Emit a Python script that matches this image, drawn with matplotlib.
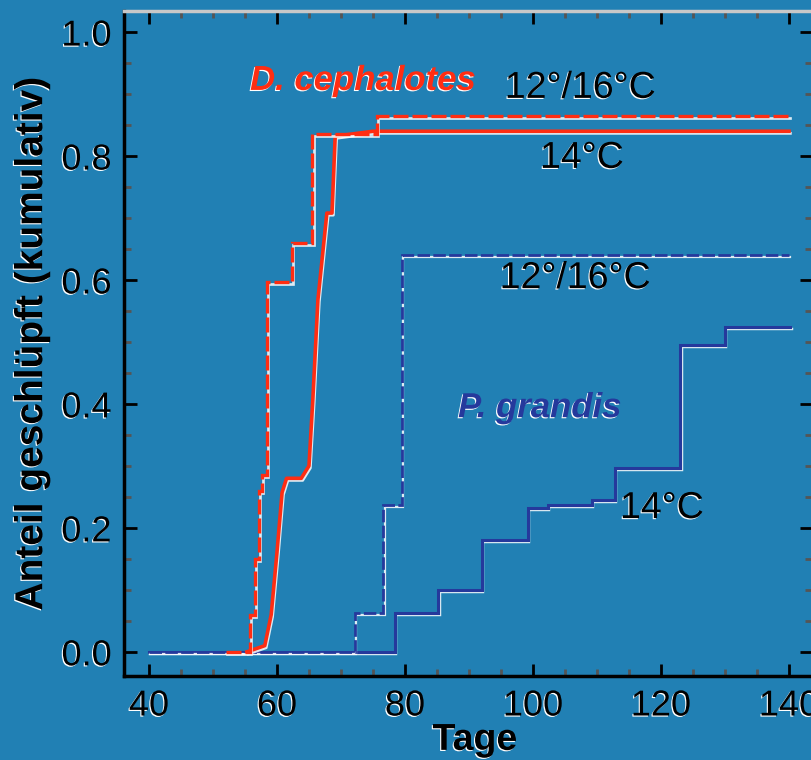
import matplotlib
matplotlib.use("Agg")
import matplotlib.pyplot as plt
import matplotlib.patheffects as pe
from matplotlib.transforms import offset_copy
from matplotlib.ticker import MultipleLocator

plt.rcParams['font.family'] = ['Liberation Sans', 'DejaVu Sans']

BG = '#2180b4'
RED = '#ff2d12'
BLUE = '#25399c'

# cumulative hatching curves (days, fraction hatched)
dc_warm_days = [52, 55.3, 55.8, 56.5, 57.2, 57.6, 58.4, 62.0, 62.3, 64.8, 65.5, 75.3, 75.6, 140]
dc_warm_frac = [0.0, 0.0, 0.06, 0.15, 0.26, 0.285, 0.597, 0.597, 0.66, 0.66, 0.835, 0.835, 0.865, 0.865]

dc_14_days = [55.3, 58.1, 59.1, 60.0, 60.8, 61.5, 63.8, 65.0, 65.6, 66.4, 67.2, 67.8, 68.6, 69.1, 75.0, 140]
dc_14_frac = [0.0, 0.01, 0.06, 0.16, 0.257, 0.28, 0.28, 0.30, 0.406, 0.568, 0.648, 0.708, 0.708, 0.832, 0.84, 0.84]

pg_warm_days = [40, 72.2, 76.4, 76.6, 78.9, 79.5, 140]
pg_warm_frac = [0.0, 0.063, 0.063, 0.237, 0.237, 0.64, 0.64]

pg_14_days = [40, 78.4, 85.2, 92.0, 99.2, 102.3, 109.2, 112.8, 123.0, 130.0, 140.2]
pg_14_frac = [0.0, 0.063, 0.10, 0.18, 0.232, 0.237, 0.245, 0.297, 0.495, 0.524, 0.524]

fig = plt.figure(figsize=(8.12, 7.6), dpi=100, facecolor=BG)
ax = fig.add_axes([0.1527, 0.1105, 0.8473, 0.8750], facecolor=BG)

shadow_tf = offset_copy(ax.transData, fig=fig, x=1.0, y=-1.5, units='points')


def shaded_step(x, y, color, ls, lw):
    # white shadow slightly below/right, then the coloured line on top
    ax.step(x, y, where='post', color='white', lw=lw * 0.8, ls='-', alpha=0.85,
            transform=shadow_tf, solid_joinstyle='miter')
    ax.step(x, y, where='post', color=color, lw=lw, ls=ls, solid_joinstyle='miter',
            dash_joinstyle='miter')


shaded_step(pg_14_days, pg_14_frac, BLUE, '-', 2.2)
shaded_step(pg_warm_days, pg_warm_frac, BLUE, (0, (4.5, 1.2)), 2.0)
# the 14 degC D. cephalotes curve climbs in sloped segments
ax.plot(dc_14_days, dc_14_frac, color='white', lw=2.0, alpha=0.85, transform=shadow_tf)
ax.plot(dc_14_days, dc_14_frac, color=RED, lw=2.6)
shaded_step(dc_warm_days, dc_warm_frac, RED, (0, (4.5, 1.2)), 2.4)

ax.set_xlim(36.1, 143.6)
ax.set_ylim(-0.039, 1.034)

ax.xaxis.set_major_locator(MultipleLocator(20))
ax.xaxis.set_minor_locator(MultipleLocator(5))
ax.yaxis.set_major_locator(MultipleLocator(0.2))
ax.yaxis.set_minor_locator(MultipleLocator(0.05))
ax.yaxis.set_major_formatter(plt.FuncFormatter(lambda v, p: f'{v:.1f}'))

ax.tick_params(which='both', direction='in', top=True, right=True, colors='black')
ax.tick_params(which='major', length=9, width=2, labelsize=26, pad=9)
ax.tick_params(which='minor', length=5, width=2, color='#555555')

for side in ['left', 'bottom']:
    ax.spines[side].set_linewidth(2.5)
    ax.spines[side].set_color('black')
ax.spines['top'].set_color('#c8c8c8')
ax.spines['top'].set_linewidth(2.5)
ax.spines['right'].set_visible(False)

halo = [pe.SimplePatchShadow(offset=(-0.8, -0.8), shadow_rgbFace='white', alpha=1.0),
        pe.Normal()]

for lbl in ax.get_xticklabels() + ax.get_yticklabels():
    lbl.set_path_effects(halo)

ax.set_xlabel('Tage', fontsize=27, fontweight='bold', path_effects=halo, va='center')
ax.xaxis.set_label_coords(0.51, -0.096)
ax.set_ylabel('Anteil geschlüpft (kumulativ)', fontsize=28, fontweight='bold',
              labelpad=8, path_effects=halo)

ax.text(55.8, 0.922, 'D. cephalotes', color=RED, fontsize=25, fontweight='bold',
        style='italic', ha='left', va='center', path_effects=halo)
ax.text(95.6, 0.91, '12°/16°C', color='black', fontsize=27, ha='left', va='center',
        path_effects=halo)
ax.text(101.1, 0.797, '14°C', color='black', fontsize=27, ha='left', va='center',
        path_effects=halo)
ax.text(94.8, 0.603, '12°/16°C', color='black', fontsize=27, ha='left', va='center',
        path_effects=halo)
ax.text(88.3, 0.394, 'P. grandis', color=BLUE, fontsize=25, fontweight='bold',
        style='italic', ha='left', va='center', path_effects=halo)
ax.text(113.6, 0.232, '14°C', color='black', fontsize=27, ha='left', va='center',
        path_effects=halo)

fig.savefig('out.png', dpi=100, facecolor=BG)
